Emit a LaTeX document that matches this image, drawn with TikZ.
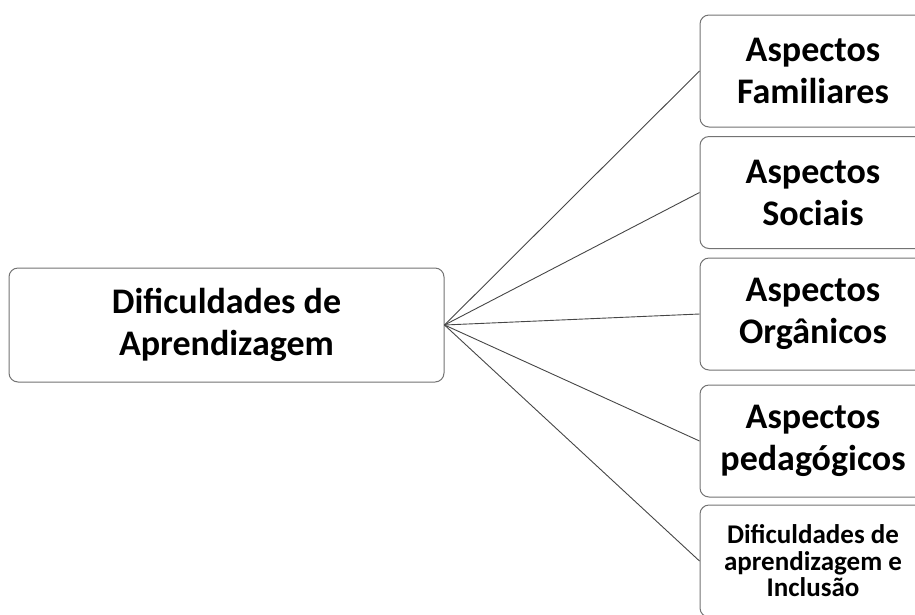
\documentclass[tikz,border=0pt]{standalone}
\usepackage{fontspec}
\setmainfont{Carlito}
\definecolor{boxgray}{RGB}{115,115,115}
\definecolor{linegray}{RGB}{70,70,70}
\begin{document}
\begin{tikzpicture}[x=1pt,y=-1pt,
  box/.style={draw=boxgray, line width=1pt, rounded corners=9pt, fill=white, align=center, inner sep=0pt,
              font=\bfseries\fontsize{36}{42}\selectfont},
  bigbox/.style={box, minimum width=435pt, minimum height=114pt},
  sidebox/.style={box, minimum width=226pt, minimum height=112pt},
  smallfont/.style={font=\bfseries\fontsize{27}{26.5}\selectfont},
  link/.style={draw=linegray, line width=0.9pt}]
\useasboundingbox (0,0) rectangle (915,614);
\clip (0,0) rectangle (915,614);
\node[bigbox] (main) at (226.5,325) {Dificuldades de\\Aprendizagem};
\node[sidebox] (fam) at (813,71) {Aspectos\\Familiares};
\node[sidebox] (soc) at (813,192.5) {Aspectos\\Sociais};
\node[sidebox] (org) at (813,314) {Aspectos\\Orgânicos};
\node[sidebox] (ped) at (813,441) {Aspectos\\pedagógicos};
\node[sidebox, smallfont] (inc) at (813,561) {Dificuldades de\\aprendizagem e\\Inclusão};
\foreach \t in {fam,soc,org,ped,inc}
  \draw[link] (main.east) -- (\t.west);
\end{tikzpicture}
\end{document}
